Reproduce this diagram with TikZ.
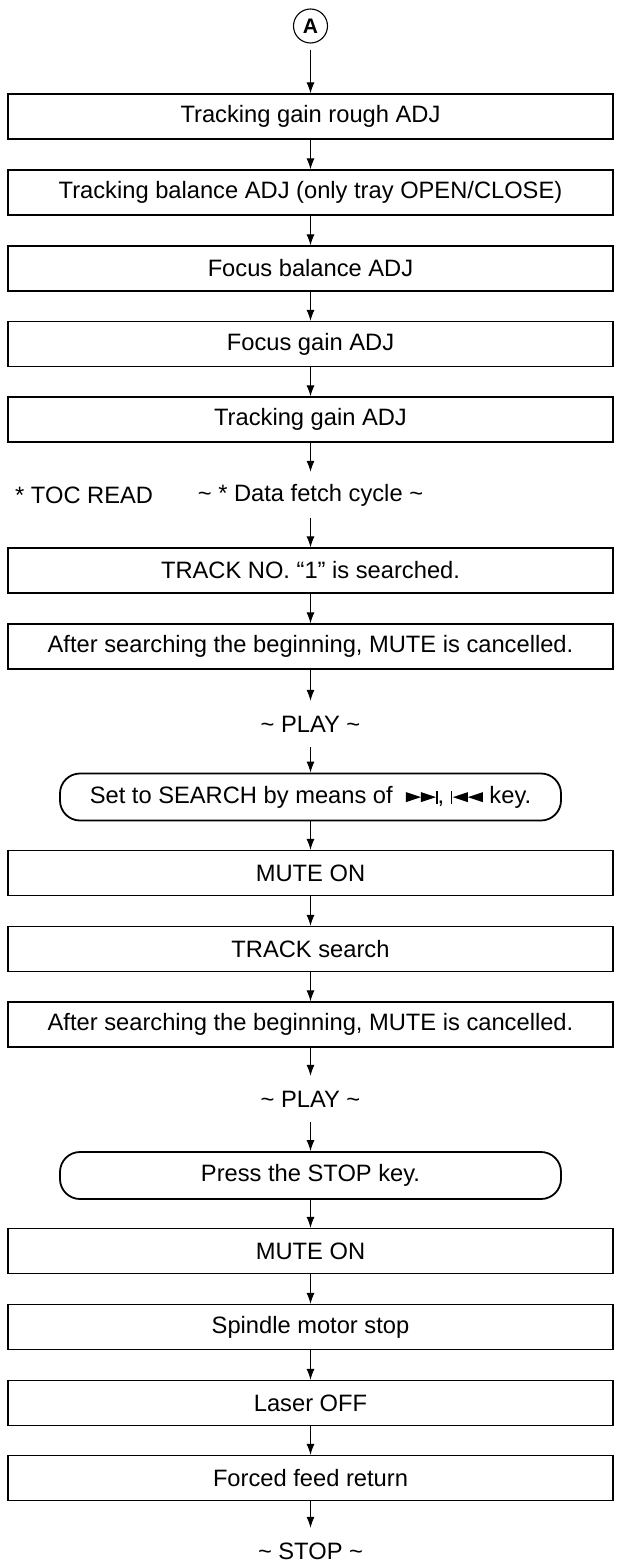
\documentclass[tikz,border=0pt]{standalone}
\usepackage{fontspec}
\setmainfont{Liberation Sans}
\usetikzlibrary{arrows.meta}

\newcommand{\fwdkey}{\tikz[sharp corners,x=1pt,y=1pt,baseline=0pt]{\fill (0,1)--(0,11)--(15,6)--cycle; \fill (15,1)--(15,11)--(30,6)--cycle; \fill (30.3,-0.5) rectangle (31.8,12.5);}}
\newcommand{\revkey}{\tikz[sharp corners,x=1pt,y=1pt,baseline=0pt]{\fill (0,-0.5) rectangle (1.5,12.5); \fill (17,1)--(17,11)--(2,6)--cycle; \fill (32,1)--(32,11)--(17,6)--cycle;}}

\begin{document}
\begin{tikzpicture}[x=1pt,y=-1pt,
  box/.style={draw,line width=1.2pt,minimum width=605pt,minimum height=45pt,inner sep=0pt,font=\fontsize{23.7}{28}\selectfont},
  keybox/.style={draw,line width=1.8pt,rounded corners=20pt,minimum width=501pt,minimum height=47pt,inner sep=0pt,font=\fontsize{23.7}{28}\selectfont},
  note/.style={minimum height=46pt,inner sep=0pt,font=\fontsize{23.7}{28}\selectfont},
  arr/.style={-{Latex[length=11pt,width=8pt]},line width=1pt}]
\useasboundingbox (0,0) rectangle (617,1568);

\node[circle,draw,line width=1.1pt,minimum size=34pt,inner sep=0pt,font=\fontsize{21}{24}\selectfont\bfseries] (A) at (310.5,26) {A};

\node[box] (b1) at (310.5,116.5) {Tracking gain rough ADJ};
\node[box] (b2) at (310.5,192.5) {Tracking balance ADJ (only tray OPEN/CLOSE)};
\node[box] (b3) at (310.5,268.5) {Focus balance ADJ};
\node[box] (b4) at (310.5,344) {Focus gain ADJ};
\node[box] (b5) at (310.5,419.5) {Tracking gain ADJ};
\node[note,anchor=west] (toc) at (15,495) {* TOC READ};
\node[note] (fetch) at (310.5,495) {\textasciitilde\ * Data fetch cycle \textasciitilde};
\node[box] (b6) at (310.5,570.5) {TRACK NO. “1” is searched.};
\node[box] (b7) at (310.5,646.5) {After searching the beginning, MUTE is cancelled.};
\node[note] (play1) at (310.5,724) {\textasciitilde\ PLAY \textasciitilde};
\node[keybox] (k1) at (310.5,797) {Set to SEARCH by means of \ \fwdkey, \revkey\ key.};
\node[box] (b8) at (310.5,873) {MUTE ON};
\node[box] (b9) at (310.5,949) {TRACK search};
\node[box] (b10) at (310.5,1024.5) {After searching the beginning, MUTE is cancelled.};
\node[note] (play2) at (310.5,1099) {\textasciitilde\ PLAY \textasciitilde};
\node[keybox] (k2) at (310.5,1175.5) {Press the STOP key.};
\node[box] (b11) at (310.5,1251) {MUTE ON};
\node[box] (b12) at (310.5,1327) {Spindle motor stop};
\node[box] (b13) at (310.5,1403) {Laser OFF};
\node[box] (b14) at (310.5,1478) {Forced feed return};
\node[note] (stop) at (310.5,1551) {\textasciitilde\ STOP \textasciitilde};

\draw[arr,shorten <=6pt] (A) -- (b1);
\draw[arr] (b1) -- (b2);
\draw[arr] (b2) -- (b3);
\draw[arr] (b3) -- (b4);
\draw[arr] (b4) -- (b5);
\draw[arr] (b5) -- (fetch);
\draw[arr] (fetch) -- (b6);
\draw[arr] (b6) -- (b7);
\draw[arr] (b7) -- (play1);
\draw[arr] (play1) -- (k1);
\draw[arr] (k1) -- (b8);
\draw[arr] (b8) -- (b9);
\draw[arr] (b9) -- (b10);
\draw[arr] (b10) -- (play2);
\draw[arr] (play2) -- (k2);
\draw[arr] (k2) -- (b11);
\draw[arr] (b11) -- (b12);
\draw[arr] (b12) -- (b13);
\draw[arr] (b13) -- (b14);
\draw[arr] (b14) -- (stop);
\end{tikzpicture}
\end{document}
